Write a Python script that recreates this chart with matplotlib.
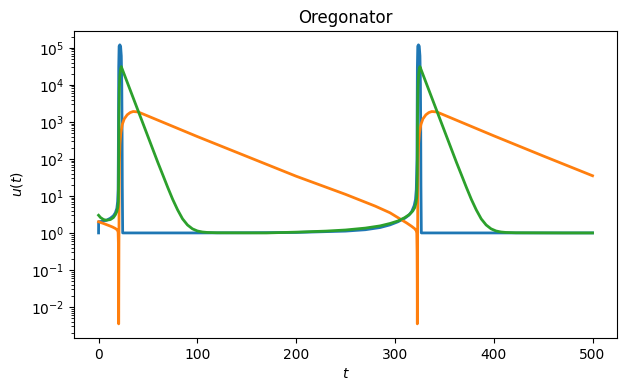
import matplotlib
matplotlib.use("Agg")
import matplotlib.pyplot as plt

# valores (u1 azul, u2 naranja, u3 verde)
t_u1 = [0, 0.05, 3, 8, 12, 15, 17, 18.5, 19.3, 19.8, 20.0, 20.2, 20.4, 20.8, 21.5,
        22.3, 23.0, 23.5, 23.8, 24.0, 24.4, 60, 100, 150, 200, 250, 270, 285, 295,
        303, 310, 314, 317, 319.5, 320.8, 321.6, 322.3, 322.5, 322.7, 323.1, 323.8,
        324.6, 325.3, 325.8, 326.1, 326.3, 326.7, 360, 400, 450, 500]
u1 = [1.0, 2.0, 2.05, 2.2, 2.5, 2.9, 3.5, 4.6, 7, 15, 100, 2000, 3e4, 1.1e5, 1.2e5,
      1.1e5, 6e4, 1e4, 500, 20, 1.0, 1.0, 1.0, 1.01, 1.03, 1.12, 1.22, 1.4, 1.65,
      2.0, 2.5, 3.0, 3.8, 5.5, 8, 15, 100, 2000, 3e4, 1.1e5, 1.2e5,
      1.1e5, 6e4, 1e4, 500, 20, 1.0, 1.0, 1.0, 1.0, 1.0]

t_u2 = [0, 5, 10, 14, 17, 19, 19.8, 20.1, 20.25, 20.35, 20.45, 20.6, 20.8, 21.1,
        21.6, 22.5, 24, 26, 29, 32, 35, 40, 100, 200, 250, 280, 295, 305, 312, 317,
        320, 321.5, 322.1, 322.4, 322.55, 322.65, 322.75, 322.9, 323.1, 323.4,
        323.9, 324.8, 326.3, 328.3, 331.3, 334.3, 337.3, 342.3, 400, 450, 500]
u2 = [2.0, 1.8, 1.6, 1.45, 1.32, 1.2, 1.05, 0.5, 0.05, 0.0035, 0.02, 0.5, 8, 80,
      250, 500, 850, 1200, 1550, 1780, 1900, 1850, 400, 34, 11, 5.3, 3.5, 2.4, 1.85, 1.5,
      1.3, 1.15, 1.0, 0.3, 0.05, 0.0035, 0.02, 0.5, 8, 80,
      250, 500, 850, 1200, 1550, 1780, 1900, 1850, 420, 120, 35]

t_u3 = [0, 2, 5, 8, 12, 15, 17, 18.5, 19.5, 20.0, 20.3, 20.6, 21.0, 21.5, 22.2, 23.0,
        30, 40, 50, 60, 65, 70, 75, 80, 85, 90, 95, 100, 105, 110, 120, 170, 200, 230,
        250, 270, 285, 295, 303, 310, 315, 318, 320, 321.3, 322.0, 322.3, 322.6,
        322.9, 323.3, 323.8, 324.5, 325.3, 332.3, 342.3, 352.3, 362.3, 367.3, 372.3,
        377.3, 382.3, 387.3, 392.3, 397.3, 402.3, 407.3, 412.3, 422.3, 470, 500]
u3 = [3.0, 2.6, 2.3, 2.2, 2.3, 2.6, 3.1, 3.8, 5, 7, 30, 1500, 8000, 1.7e4, 2.6e4, 3.1e4,
      1e4, 2000, 400, 80, 37, 17, 8.1, 4.2, 2.4, 1.64, 1.29, 1.13, 1.06, 1.03, 1.01, 1.0,
      1.05, 1.12, 1.2, 1.35, 1.55, 1.8, 2.1, 2.6, 3.2, 3.9, 4.8, 6.5, 9, 15, 40,
      1500, 8000, 1.7e4, 2.6e4, 3.1e4, 1e4, 2000, 400, 80, 37, 17,
      8.1, 4.2, 2.4, 1.64, 1.29, 1.13, 1.06, 1.03, 1.01, 1.0, 1.0]

fig = plt.figure(figsize=(6.26, 3.91), dpi=100)
ax = fig.add_subplot(111)
fig.subplots_adjust(left=0.118, right=0.986, bottom=0.136, top=0.921)

ax.semilogy(t_u1, u1, lw=2)
ax.semilogy(t_u2, u2, lw=2)
ax.semilogy(t_u3, u3, lw=2)

ax.set_title('Oregonator')
ax.set_xlabel('$t$')
ax.set_ylabel('$u(t)$')

fig.savefig('out.png', dpi=100)
